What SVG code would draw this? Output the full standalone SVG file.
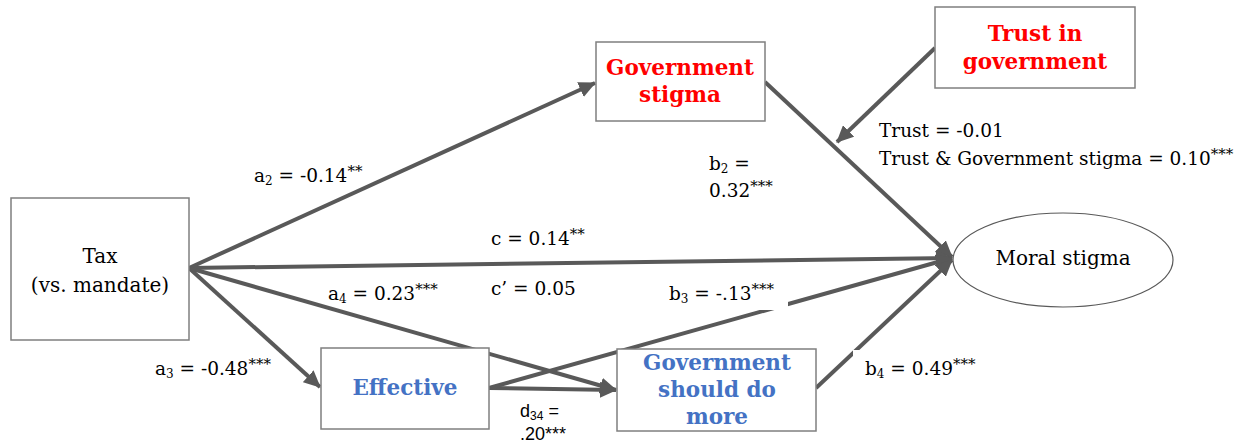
<svg xmlns="http://www.w3.org/2000/svg" width="1248" height="444" viewBox="0 0 1248 444">
<style>
.box{fill:#fff;stroke:#7f7f7f;stroke-width:1.5}
.ell{fill:#fff;stroke:#595959;stroke-width:1.2}
.ln{stroke:#595959;stroke-width:4;fill:none}
.arr{marker-end:url(#ah)}
.t{font-family:"DejaVu Serif","Liberation Serif",serif;font-size:18.5px;fill:#000}
.nt{font-family:"DejaVu Serif","Liberation Serif",serif;font-size:20px;fill:#000;text-anchor:middle}
.bt{font-family:"DejaVu Serif","Liberation Serif",serif;font-size:21.5px;font-weight:bold;text-anchor:middle}
.red{fill:#ff0000}
.blue{fill:#4472c4}
.s{font-size:12px}
.st{font-size:15px}
.sans{font-family:"Liberation Sans","DejaVu Sans",sans-serif;font-size:18px;fill:#000}
</style>
<defs>
<marker id="ah" markerUnits="userSpaceOnUse" markerWidth="18" markerHeight="16" refX="16" refY="8" orient="auto">
<path d="M0,0 L17,8 L0,16 Z" fill="#595959"/>
</marker>
</defs>
<g id="connectors">
<line class="ln arr" x1="189" y1="268" x2="595" y2="83"/>
<line class="ln arr" x1="765" y1="82" x2="952" y2="257"/>
<line class="ln arr" x1="935" y1="48" x2="837" y2="142"/>
<line class="ln arr" x1="189" y1="268" x2="952" y2="258"/>
<line class="ln arr" x1="189" y1="268" x2="320" y2="387"/>
<line class="ln arr" x1="189" y1="268" x2="616" y2="390"/>
<line class="ln arr" x1="489" y1="388" x2="616" y2="390"/>
<line class="ln arr" x1="489" y1="388" x2="952" y2="258"/>
<line class="ln arr" x1="816" y1="388" x2="952" y2="260"/>
</g>
<g id="label-bg">
<rect x="666" y="282" width="122" height="28" fill="#fff"/>
<rect x="853" y="350" width="130" height="34" fill="#fff"/>
</g>
<g id="tax">
<rect class="box" x="11" y="198" width="178" height="142"/>
<text class="nt" x="100" y="263">Tax</text>
<text class="nt" x="100" y="292">(vs. mandate)</text>
</g>
<g id="gov-stigma">
<rect class="box" x="596" y="42" width="169" height="79"/>
<text class="bt red" x="680" y="75">Government</text>
<text class="bt red" x="680" y="102">stigma</text>
</g>
<g id="trust">
<rect class="box" x="935" y="7" width="200" height="81"/>
<text class="bt red" x="1035" y="41">Trust in</text>
<text class="bt red" x="1035" y="69">government</text>
</g>
<g id="moral">
<ellipse class="ell" cx="1063" cy="260" rx="110" ry="47"/>
<text class="nt" x="1063" y="265">Moral stigma</text>
</g>
<g id="effective">
<rect class="box" x="321" y="348" width="168" height="81"/>
<text class="bt blue" x="405" y="395">Effective</text>
</g>
<g id="gsdm">
<rect class="box" x="617" y="349" width="199" height="82"/>
<text class="bt blue" x="717" y="370">Government</text>
<text class="bt blue" x="717" y="397">should do</text>
<text class="bt blue" x="717" y="424">more</text>
</g>
<g id="labels">
<text class="t" x="254" y="182">a<tspan class="s" dy="3">2</tspan><tspan dy="-3"> = -0.14</tspan><tspan class="st" dy="-6">**</tspan></text>
<text class="t" x="709" y="170">b<tspan class="s" dy="3">2</tspan><tspan dy="-3"> =</tspan></text>
<text class="t" x="709" y="197">0.32<tspan class="st" dy="-6">***</tspan></text>
<text class="t" x="879" y="137">Trust = -0.01</text>
<text class="t" x="879" y="165">Trust &amp; Government stigma = 0.10<tspan class="st" dy="-6">***</tspan></text>
<text class="t" x="491" y="245">c = 0.14<tspan class="st" dy="-6">**</tspan></text>
<text class="t" x="491" y="295">c’ = 0.05</text>
<text class="t" x="328" y="300">a<tspan class="s" dy="3">4</tspan><tspan dy="-3"> = 0.23</tspan><tspan class="st" dy="-6">***</tspan></text>
<text class="t" x="669" y="300">b<tspan class="s" dy="3">3</tspan><tspan dy="-3"> = -.13</tspan><tspan class="st" dy="-6">***</tspan></text>
<text class="t" x="155" y="375">a<tspan class="s" dy="3">3</tspan><tspan dy="-3"> = -0.48</tspan><tspan class="st" dy="-6">***</tspan></text>
<text class="t" x="865" y="375">b<tspan class="s" dy="3">4</tspan><tspan dy="-3"> = 0.49</tspan><tspan class="st" dy="-6">***</tspan></text>
<text class="sans" x="520" y="417">d<tspan font-size="12" dy="3">34</tspan><tspan dy="-3"> =</tspan></text>
<text class="sans" x="520" y="440">.20***</text>
</g>
</svg>
